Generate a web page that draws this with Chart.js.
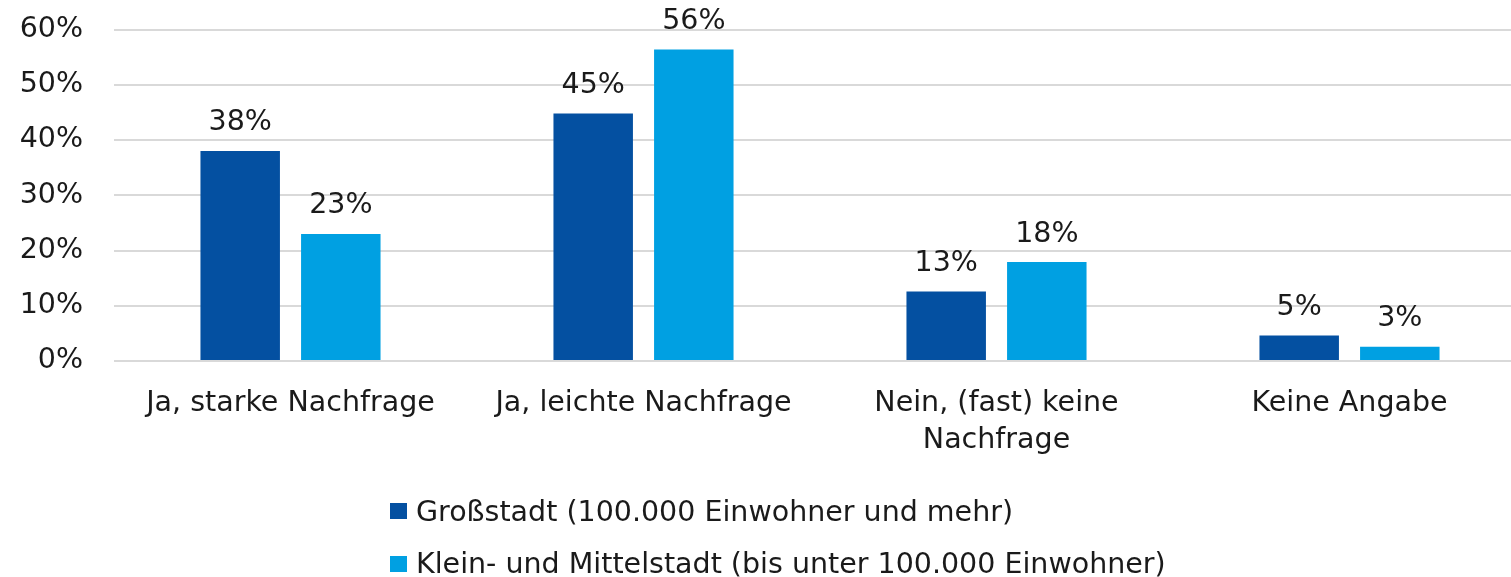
<!DOCTYPE html>
<html lang="de">
<head>
<meta charset="utf-8">
<script src="https://cdn.jsdelivr.net/npm/chart.js@4/dist/chart.umd.min.js"></script>
<style>
  html, body { margin: 0; padding: 0; background: #fff; overflow: hidden; }
  #wrap { position: relative; width: 1530px; height: 577px; }
  #legend { position: absolute; left: 390px; top: 496px; font-family: "DejaVu Sans", sans-serif; font-size: 28.5px; color: #1a1a1a; }
  .item { display: flex; align-items: center; height: 30px; margin-bottom: 22.5px; white-space: nowrap; }
  .box { width: 17px; height: 16px; margin-right: 9px; }
</style>
</head>
<body>
<div id="wrap">
  <canvas id="chart"></canvas>
  <div id="legend"></div>
</div>
<script>
const categories = ['Ja, starke Nachfrage', 'Ja, leichte Nachfrage', ['Nein, (fast) keine', 'Nachfrage'], 'Keine Angabe'];
const seriesNames = ['Großstadt (100.000 Einwohner und mehr)', 'Klein- und Mittelstadt (bis unter 100.000 Einwohner)'];
const grossstadt = [38, 44.8, 12.6, 4.6];
const kleinstadt = [23, 56.4, 17.9, 2.6];
const yTicks = [0, 10, 20, 30, 40, 50, 60];

const colors = ['#0450A1', '#00A0E2'];
const FONT = '"DejaVu Sans", sans-serif';

// value labels above each bar
const barLabels = {
    id: 'barLabels',
    afterDatasetsDraw(chart) {
        const ctx = chart.ctx;
        ctx.save();
        ctx.font = '28.5px ' + FONT;
        ctx.fillStyle = '#1a1a1a';
        ctx.textAlign = 'center';
        ctx.textBaseline = 'middle';
        chart.data.datasets.forEach((ds, i) => {
            chart.getDatasetMeta(i).data.forEach((bar, j) => {
                ctx.fillText(Math.round(ds.data[j]) + '%', bar.x, bar.y - 28);
            });
        });
        ctx.restore();
    }
};

const ctx = document.getElementById('chart').getContext('2d');
new Chart(ctx, {
    type: 'bar',
    data: {
        labels: categories,
        datasets: [
            { label: seriesNames[0], data: grossstadt, backgroundColor: colors[0] },
            { label: seriesNames[1], data: kleinstadt, backgroundColor: colors[1] }
        ]
    },
    options: {
        responsive: true,
        maintainAspectRatio: false,
        animation: false,
        categoryPercentage: 0.57,
        barPercentage: 0.79,
        layout: { padding: { top: 29.5, right: 4, left: 0, bottom: 0 } },
        plugins: {
            legend: { display: false },
            tooltip: { enabled: false }
        },
        scales: {
            x: {
                grid: { display: false, drawTicks: false },
                border: { display: false },
                ticks: {
                    color: '#1a1a1a',
                    font: { family: FONT, size: 28.5, lineHeight: 1.3 },
                    padding: 24,
                    maxRotation: 0,
                    autoSkip: false
                },
                afterFit: s => { s.height = 216; s.paddingLeft = 0; s.paddingRight = 0; }
            },
            y: {
                min: 0,
                max: 60,
                afterBuildTicks: s => { s.ticks = yTicks.map(v => ({ value: v })); },
                grid: { color: '#d9d9d9', lineWidth: 2, drawTicks: false },
                border: { display: false },
                ticks: {
                    color: '#1a1a1a',
                    font: { family: FONT, size: 28.5 },
                    padding: 31,
                    callback: v => v + '%'
                },
                afterFit: s => { s.width = 114; s.paddingTop = 0; s.paddingBottom = 0; }
            }
        }
    },
    plugins: [barLabels]
});

// legend, one row per series
const legend = document.getElementById('legend');
seriesNames.forEach((name, i) => {
    const row = document.createElement('div');
    row.className = 'item';
    row.innerHTML = `<span class="box" style="background:${colors[i]}"></span><span>${name}</span>`;
    legend.appendChild(row);
});
</script>
</body>
</html>
